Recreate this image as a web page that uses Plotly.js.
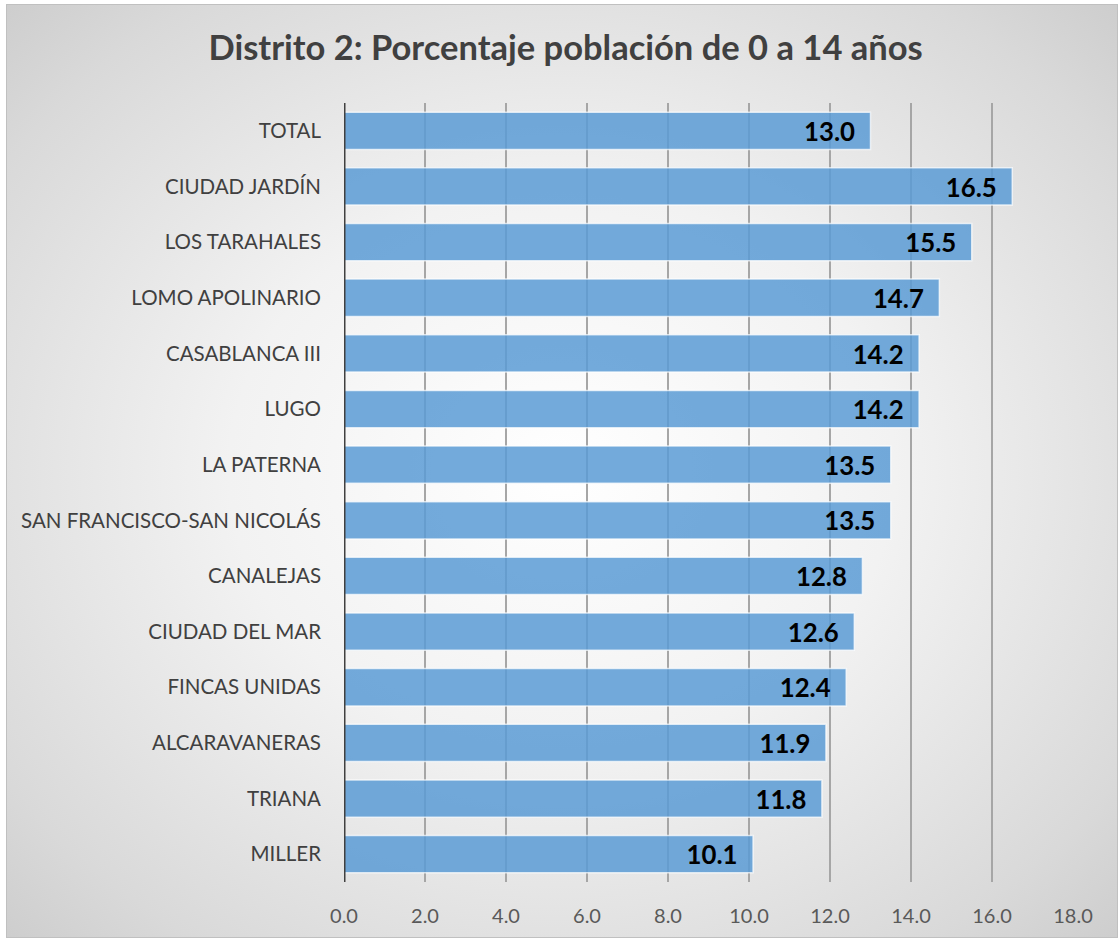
<!DOCTYPE html>
<html>
<head>
<meta charset="utf-8">
<script src="https://cdn.plot.ly/plotly-3.0.1.min.js"></script>
<style>
html,body{margin:0;padding:0;background:#fff;}
#frame{position:absolute;left:6px;top:4px;width:1112px;height:934px;box-sizing:border-box;border:1px solid #c0c0c0;
background:radial-gradient(ellipse 75% 75% at 50% 50%, #ffffff 0%, #f2f2f2 40%, #d9d9d9 80%, #c9c9c9 100%);}
#chart{position:absolute;left:0;top:0;width:1120px;height:942px;}
</style>
</head>
<body>
<div id="frame"></div>
<div id="chart"></div>
<script>
const categories = ["TOTAL","CIUDAD JARDÍN","LOS TARAHALES","LOMO APOLINARIO","CASABLANCA III","LUGO","LA PATERNA","SAN FRANCISCO-SAN NICOLÁS","CANALEJAS","CIUDAD DEL MAR","FINCAS UNIDAS","ALCARAVANERAS","TRIANA","MILLER"];
const values = [13.0,16.5,15.5,14.7,14.2,14.2,13.5,13.5,12.8,12.6,12.4,11.9,11.8,10.1];
const xTicks = [0,2,4,6,8,10,12,14,16,18];

const trace = {
  type:'bar', orientation:'h',
  x: values, y: categories,
  marker:{color:'rgba(91,155,213,0.85)', line:{color:'rgba(255,255,255,0.7)', width:1.5}},
  text: values.map(v => v.toFixed(1) + '\u00a0\u00a0'),
  textposition:'inside', insidetextanchor:'end',
  textfont:{family:'Lato, sans-serif', size:28, color:'#000000', weight:'bold'},
  cliponaxis:false, hoverinfo:'none'
};

const layout = {
  width:1120, height:942,
  paper_bgcolor:'rgba(0,0,0,0)', plot_bgcolor:'rgba(0,0,0,0)',
  margin:{l:344, r:47, t:103, b:60},
  title:{text:'<b>Distrito 2: Porcentaje población de 0 a 14 años</b>', x:0.505, xanchor:'center', y:0.949, yanchor:'middle',
         font:{family:'Lato, sans-serif', size:34.5, color:'#404040'}},
  bargap:0.33,
  showlegend:false,
  xaxis:{range:[0,18], tickvals:xTicks, ticktext:xTicks.map(v=>v.toFixed(1)),
         showgrid:true, gridcolor:'#a6a6a6', gridwidth:1.2, zeroline:false, showline:false,
         tickfont:{family:'Lato, sans-serif', size:20, color:'#595959'}, ticklabelstandoff:20, fixedrange:true},
  yaxis:{type:'category', autorange:'reversed', showgrid:false, zeroline:false,
         showline:false, ticks:'', ticklabelstandoff:22,
         tickfont:{family:'Lato, sans-serif', size:20.5, color:'#404040'}, fixedrange:true},
  shapes:[{type:'line', xref:'x', yref:'paper', x0:0, x1:0, y0:0, y1:1, line:{color:'#404040', width:3}}]
};

Plotly.newPlot('chart',[trace],layout,{displayModeBar:false, staticPlot:true});
</script>
</body>
</html>
